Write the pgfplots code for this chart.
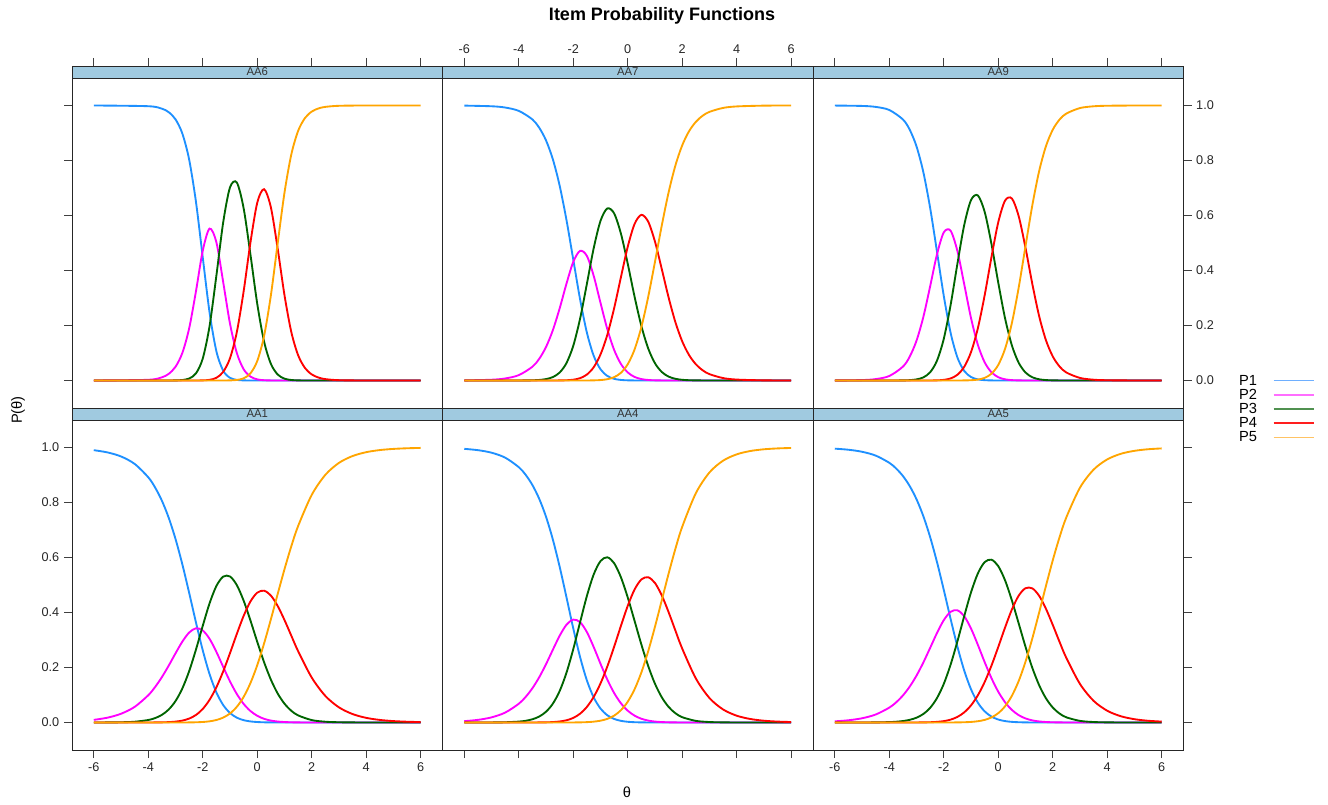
\documentclass[border=0pt]{standalone}
\usepackage{fontspec}
\setmainfont{Liberation Sans}
\usepackage{pgfplots}
\usepackage{pgfplotstable}
\pgfplotsset{compat=1.18}
\definecolor{colA}{RGB}{30,144,255}
\definecolor{colB}{RGB}{255,0,255}
\definecolor{colC}{RGB}{0,100,0}
\definecolor{colD}{RGB}{255,0,0}
\definecolor{colE}{RGB}{255,165,0}
\definecolor{legA}{RGB}{110,175,255}
\definecolor{legB}{RGB}{255,110,255}
\definecolor{legC}{RGB}{80,145,80}
\definecolor{legD}{RGB}{255,30,30}
\definecolor{legE}{RGB}{255,195,100}
\definecolor{stripblue}{RGB}{160,202,224}

\pgfplotstableread{
th p1 p2 p3 p4 p5
-6 1.0000 0 0 0 0
-4 0.9974 0.0026 0 0 0
-3.5 0.9884 0.0116 0 0 0
-3.25 0.9757 0.0242 0.0001 0 0
-3 0.9497 0.0499 0.0004 0 0
-2.75 0.8982 0.1000 0.0018 0 0
-2.5 0.8036 0.1892 0.0072 0 0
-2.25 0.6499 0.3241 0.0259 0.0001 0
-2 0.4474 0.4722 0.0799 0.0005 0
-1.75 0.2472 0.5524 0.1980 0.0024 0
-1.5 0.1063 0.5026 0.3813 0.0098 0
-1.25 0.0357 0.3578 0.5750 0.0313 0.0001
-1 0.0097 0.2065 0.7023 0.0810 0.0004
-0.75 0.0022 0.1000 0.7200 0.1758 0.0020
-0.5 0.0004 0.0411 0.6266 0.3239 0.0079
-0.25 0.0001 0.0142 0.4583 0.5015 0.0260
0 0 0.0041 0.2789 0.6462 0.0708
0.25 0 0.0010 0.1419 0.6957 0.1614
0.5 0 0.0002 0.0607 0.6298 0.3094
0.75 0 0 0.0218 0.4795 0.4986
1 0 0 0.0067 0.3103 0.6830
1.25 0 0 0.0018 0.1764 0.8218
1.5 0 0 0.0004 0.0920 0.9075
1.75 0 0 0.0001 0.0457 0.9542
2 0 0 0 0.0221 0.9779
2.25 0 0 0 0.0106 0.9894
2.5 0 0 0 0.0050 0.9950
3 0 0 0 0.0011 0.9989
4 0 0 0 0 1
6 0 0 0 0 1
}\aasix

\pgfplotstableread{
th p1 p2 p3 p4 p5
-6 0.9996 0.0004 0 0 0
-5 0.9972 0.0028 0 0 0
-4.5 0.9926 0.0074 0 0 0
-4 0.9804 0.0195 0.0001 0 0
-3.5 0.9493 0.0500 0.0008 0 0
-3.25 0.9192 0.0788 0.0020 0 0
-3 0.8731 0.1218 0.0051 0 0
-2.75 0.8047 0.1828 0.0124 0.0001 0
-2.5 0.7087 0.2621 0.0289 0.0003 0
-2.25 0.5841 0.3518 0.0633 0.0009 0
-2 0.4397 0.4312 0.1262 0.0029 0
-1.75 0.2953 0.4715 0.2247 0.0085 0
-1.5 0.1741 0.4528 0.3514 0.0216 0.0001
-1.25 0.0899 0.3805 0.4809 0.0482 0.0005
-1 0.0409 0.2822 0.5805 0.0947 0.0016
-0.75 0.0166 0.1868 0.6257 0.1661 0.0047
-0.5 0.0061 0.1114 0.6077 0.2627 0.0121
-0.25 0.0020 0.0601 0.5339 0.3759 0.0281
0 0.0006 0.0293 0.4244 0.4865 0.0592
0.25 0.0002 0.0129 0.3049 0.5691 0.1128
0.5 0 0.0052 0.1982 0.6023 0.1944
0.75 0 0.0019 0.1168 0.5778 0.3036
1 0 0.0006 0.0626 0.5048 0.4319
1.25 0 0.0002 0.0309 0.4049 0.5641
1.5 0 0 0.0141 0.3017 0.6842
1.75 0 0 0.0061 0.2118 0.7821
2 0 0 0.0025 0.1422 0.8553
2.25 0 0 0.0010 0.0926 0.9064
2.5 0 0 0.0004 0.0590 0.9406
2.75 0 0 0.0002 0.0371 0.9628
3 0 0 0 0.0231 0.9769
3.5 0 0 0 0.0088 0.9912
4 0 0 0 0.0034 0.9966
5 0 0 0 0.0005 0.9995
6 0 0 0 0.0001 0.9999
}\aaseven

\pgfplotstableread{
th p1 p2 p3 p4 p5
-6 0.9998 0.0002 0 0 0
-5 0.9984 0.0016 0 0 0
-4.5 0.9949 0.0051 0 0 0
-4 0.9837 0.0163 0 0 0
-3.5 0.9492 0.0504 0.0004 0 0
-3.25 0.9120 0.0867 0.0013 0 0
-3 0.8512 0.1449 0.0040 0 0
-2.75 0.7578 0.2309 0.0113 0 0
-2.5 0.6275 0.3424 0.0300 0.0001 0
-2.25 0.4691 0.4583 0.0719 0.0006 0
-2 0.3079 0.5386 0.1513 0.0023 0
-1.75 0.1739 0.5447 0.2739 0.0075 0
-1.5 0.0840 0.4710 0.4241 0.0208 0.0001
-1.25 0.0349 0.3503 0.5649 0.0496 0.0003
-1 0.0127 0.2272 0.6560 0.1031 0.0010
-0.75 0.0040 0.1302 0.6730 0.1895 0.0032
-0.5 0.0012 0.0663 0.6137 0.3093 0.0095
-0.25 0.0003 0.0300 0.4968 0.4483 0.0246
0 0.0001 0.0120 0.3560 0.5753 0.0566
0.25 0 0.0043 0.2261 0.6543 0.1153
0.5 0 0.0013 0.1278 0.6619 0.2089
0.75 0 0.0004 0.0644 0.5975 0.3377
1 0 0.0001 0.0291 0.4826 0.4883
1.25 0 0 0.0118 0.3515 0.6367
1.5 0 0 0.0044 0.2346 0.7610
1.75 0 0 0.0015 0.1467 0.8518
2 0 0 0.0005 0.0877 0.9118
2.25 0 0 0.0002 0.0510 0.9489
2.5 0 0 0.0001 0.0291 0.9708
3 0 0 0 0.0093 0.9907
3.5 0 0 0 0.0029 0.9971
4 0 0 0 0.0009 0.9991
5 0 0 0 0.0001 0.9999
6 0 0 0 0 1
}\aanine

\pgfplotstableread{
th p1 p2 p3 p4 p5
-6 0.9903 0.0096 0.0001 0 0
-5.5 0.9822 0.0175 0.0003 0 0
-5 0.9674 0.0318 0.0009 0 0
-4.5 0.9403 0.0568 0.0028 0 0
-4 0.8916 0.0992 0.0091 0.0001 0
-3.75 0.8547 0.1290 0.0160 0.0003 0
-3.5 0.8065 0.1651 0.0278 0.0006 0
-3.25 0.7445 0.2068 0.0473 0.0014 0
-3 0.6673 0.2515 0.0780 0.0032 0
-2.75 0.5752 0.2940 0.1237 0.0069 0.0001
-2.5 0.4717 0.3271 0.1866 0.0142 0.0003
-2.25 0.3641 0.3426 0.2651 0.0274 0.0008
-2 0.2624 0.3348 0.3516 0.0493 0.0019
-1.75 0.1757 0.3042 0.4334 0.0825 0.0043
-1.5 0.1094 0.2569 0.4965 0.1282 0.0091
-1.25 0.0635 0.2023 0.5305 0.1858 0.0179
-1 0.0345 0.1493 0.5310 0.2523 0.0329
-0.75 0.0176 0.1036 0.4997 0.3221 0.0570
-0.5 0.0085 0.0677 0.4432 0.3876 0.0930
-0.25 0.0039 0.0418 0.3710 0.4401 0.1433
0 0.0017 0.0244 0.2934 0.4721 0.2085
0.25 0.0007 0.0134 0.2195 0.4793 0.2871
0.5 0.0003 0.0070 0.1559 0.4617 0.3752
0.75 0.0001 0.0035 0.1055 0.4237 0.4672
1 0 0.0017 0.0684 0.3726 0.5573
1.25 0 0.0008 0.0427 0.3158 0.6408
1.5 0 0.0003 0.0259 0.2595 0.7143
2 0 0.0001 0.0088 0.1634 0.8277
2.5 0 0 0.0028 0.0966 0.9006
3 0 0 0.0009 0.0550 0.9441
3.5 0 0 0.0003 0.0307 0.9690
4 0 0 0.0001 0.0169 0.9830
4.5 0 0 0 0.0093 0.9907
5 0 0 0 0.0051 0.9949
5.5 0 0 0 0.0028 0.9972
6 0 0 0 0.0015 0.9985
}\aaone

\pgfplotstableread{
th p1 p2 p3 p4 p5
-6 0.9951 0.0049 0 0 0
-5.5 0.9903 0.0096 0.0001 0 0
-5 0.9811 0.0187 0.0002 0 0
-4.5 0.9631 0.0360 0.0009 0 0
-4 0.9285 0.0682 0.0033 0 0
-3.75 0.9010 0.0928 0.0062 0 0
-3.5 0.8636 0.1246 0.0117 0.0001 0
-3.25 0.8135 0.1645 0.0217 0.0003 0
-3 0.7482 0.2120 0.0392 0.0006 0
-2.75 0.6656 0.2644 0.0684 0.0016 0
-2.5 0.5666 0.3153 0.1144 0.0037 0
-2.25 0.4557 0.3554 0.1807 0.0081 0.0001
-2 0.3423 0.3742 0.2666 0.0167 0.0002
-1.75 0.2382 0.3649 0.3644 0.0320 0.0005
-1.5 0.1531 0.3288 0.4601 0.0567 0.0013
-1.25 0.0912 0.2744 0.5383 0.0930 0.0031
-1 0.0507 0.2136 0.5871 0.1421 0.0066
-0.75 0.0264 0.1560 0.6008 0.2037 0.0132
-0.5 0.0130 0.1073 0.5794 0.2754 0.0250
-0.25 0.0060 0.0698 0.5279 0.3516 0.0447
0 0.0026 0.0429 0.4546 0.4243 0.0756
0.25 0.0011 0.0249 0.3697 0.4836 0.1207
0.5 0.0004 0.0136 0.2837 0.5202 0.1820
0.75 0.0002 0.0070 0.2056 0.5282 0.2590
1 0.0001 0.0034 0.1408 0.5072 0.3485
1.25 0 0.0016 0.0916 0.4620 0.4448
1.5 0 0.0007 0.0567 0.4012 0.5414
1.75 0 0.0003 0.0337 0.3341 0.6319
2 0 0.0001 0.0193 0.2686 0.7119
2.5 0 0 0.0059 0.1602 0.8339
3 0 0 0.0017 0.0889 0.9094
3.5 0 0 0.0005 0.0474 0.9521
4 0 0 0.0001 0.0247 0.9751
4.5 0 0 0 0.0127 0.9873
5 0 0 0 0.0065 0.9935
5.5 0 0 0 0.0033 0.9967
6 0 0 0 0.0017 0.9983
}\aafour

\pgfplotstableread{
th p1 p2 p3 p4 p5
-6 0.9958 0.0042 0 0 0
-5.5 0.9919 0.0081 0 0 0
-5 0.9845 0.0154 0.0001 0 0
-4.5 0.9706 0.0290 0.0004 0 0
-4 0.9444 0.0541 0.0015 0 0
-3.75 0.9239 0.0732 0.0028 0 0
-3.5 0.8964 0.0983 0.0053 0 0
-3.25 0.8597 0.1305 0.0097 0.0001 0
-3 0.8117 0.1706 0.0175 0.0002 0
-2.75 0.7503 0.2182 0.0310 0.0004 0
-2.5 0.6742 0.2714 0.0534 0.0010 0
-2.25 0.5838 0.3252 0.0886 0.0023 0
-2 0.4825 0.3721 0.1403 0.0050 0
-1.75 0.3770 0.4024 0.2100 0.0104 0.0001
-1.5 0.2763 0.4081 0.2949 0.0203 0.0004
-1.25 0.1891 0.3866 0.3866 0.0368 0.0009
-1 0.1208 0.3418 0.4731 0.0623 0.0021
-0.75 0.0722 0.2828 0.5417 0.0987 0.0046
-0.5 0.0406 0.2199 0.5831 0.1470 0.0094
-0.25 0.0215 0.1614 0.5921 0.2066 0.0184
0 0.0108 0.1120 0.5687 0.2746 0.0339
0.25 0.0051 0.0736 0.5169 0.3454 0.0590
0.5 0.0023 0.0457 0.4441 0.4108 0.0970
0.75 0.0010 0.0268 0.3603 0.4612 0.1508
1 0.0004 0.0148 0.2756 0.4883 0.2209
1.25 0.0001 0.0077 0.1989 0.4878 0.3055
1.5 0 0.0038 0.1358 0.4609 0.3995
1.75 0 0.0018 0.0881 0.4138 0.4964
2 0 0.0008 0.0546 0.3551 0.5895
2.25 0 0.0004 0.0326 0.2932 0.6738
2.5 0 0.0001 0.0188 0.2347 0.7463
3 0 0 0.0059 0.1402 0.8540
3.5 0 0 0.0017 0.0788 0.9195
4 0 0 0.0005 0.0428 0.9567
4.5 0 0 0.0001 0.0228 0.9771
5 0 0 0 0.0120 0.9879
5.5 0 0 0 0.0063 0.9937
6 0 0 0 0.0033 0.9967
}\aafive

\pgfplotsset{
  panel/.style={
    scale only axis, width=277.875pt, height=256.5pt,
    xmin=-6.8, xmax=6.8, ymin=-0.1, ymax=1.14364,
    xtick={-6,-4,-2,0,2,4,6}, ytick={0,0.2,0.4,0.6,0.8,1},
    tick align=outside, major tick length=6pt,
    axis line style={black!85, line width=0.6pt},
    tick style={black!75, line width=0.6pt},
    /pgf/number format/assume math mode=true,
    tick label style={font=\fontsize{9.5}{11}\selectfont, text=black!85},
    yticklabel style={/pgf/number format/.cd, fixed, fixed zerofill, precision=1, assume math mode=true},
    clip=false,
  },
  curve/.style={draw=#1, line width=1.4pt, smooth},
}
\newcommand{\strip}[1]{%
  \draw[fill=stripblue, draw=black!85, line width=0.6pt] (axis description cs:0,0.96491) rectangle (axis description cs:1,1);
  \node[font=\fontsize{8.5}{10}\selectfont, text=black!80] at (axis description cs:0.5,0.98246) {#1};}
\newcommand{\fivecurves}[1]{%
  \addplot[curve=colA] table[x=th,y=p1]{#1};
  \addplot[curve=colB] table[x=th,y=p2]{#1};
  \addplot[curve=colC] table[x=th,y=p3]{#1};
  \addplot[curve=colD] table[x=th,y=p4]{#1};
  \addplot[curve=colE] table[x=th,y=p5]{#1};}

\begin{document}
\begin{tikzpicture}
\path[use as bounding box] (0pt,0pt) rectangle (996pt,-603.75pt);
\node[font=\bfseries\fontsize{13.5}{16}\selectfont] at (496.5pt,-12pt) {Item Probability Functions};
\node[rotate=90, font=\fontsize{11}{13}\selectfont] at (13.5pt,-307.5pt) {P(θ)};
\node[font=\fontsize{11}{13}\selectfont] at (470.25pt,-594pt) {θ};

% top row
\begin{axis}[panel, at={(54pt,-306pt)}, anchor=south west,
  xtick pos=right, xticklabel pos=right, xticklabels={}, ytick pos=left, yticklabels={}]
\strip{AA6}
\fivecurves{\aasix}
\end{axis}
\begin{axis}[panel, at={(331.875pt,-306pt)}, anchor=south west,
  xtick pos=right, xticklabel pos=right, ytick=\empty]
\strip{AA7}
\fivecurves{\aaseven}
\end{axis}
\begin{axis}[panel, at={(609.75pt,-306pt)}, anchor=south west,
  xtick pos=right, xticklabel pos=right, xticklabels={}, ytick pos=right, yticklabel pos=right,
  legend plot pos=right,
  legend style={at={(axis description cs:1.150,0.098)}, anchor=north west, draw=none, fill=none,
    inner sep=0pt, outer sep=0pt, row sep=0pt, font=\fontsize{11}{13}\selectfont,
    nodes={inner sep=0pt, text height=8pt, text depth=2.6pt},
    /tikz/every odd column/.style={column sep=12pt}},
  legend image code/.code={\path[draw=none, fill=none] (0pt,-1.5pt) rectangle (30pt,2.5pt); \draw[#1] (0pt,0.6pt) -- (30pt,0.6pt);}]
\addlegendimage{draw=legA, line width=1pt}
\addlegendimage{draw=legB, line width=1pt}
\addlegendimage{draw=legC, line width=1pt}
\addlegendimage{draw=legD, line width=1pt}
\addlegendimage{draw=legE, line width=1pt}
\strip{AA9}
\fivecurves{\aanine}
\legend{P1,P2,P3,P4,P5}
\end{axis}

% bottom row
\begin{axis}[panel, at={(54pt,-562.5pt)}, anchor=south west,
  xtick pos=left, xticklabel pos=left, ytick pos=left, yticklabel pos=left]
\strip{AA1}
\fivecurves{\aaone}
\end{axis}
\begin{axis}[panel, at={(331.875pt,-562.5pt)}, anchor=south west,
  xtick pos=left, xticklabel pos=left, xticklabels={}, ytick=\empty]
\strip{AA4}
\fivecurves{\aafour}
\end{axis}
\begin{axis}[panel, at={(609.75pt,-562.5pt)}, anchor=south west,
  xtick pos=left, xticklabel pos=left, ytick pos=right, yticklabel pos=right, yticklabels={}]
\strip{AA5}
\fivecurves{\aafive}
\end{axis}
\end{tikzpicture}
\end{document}
